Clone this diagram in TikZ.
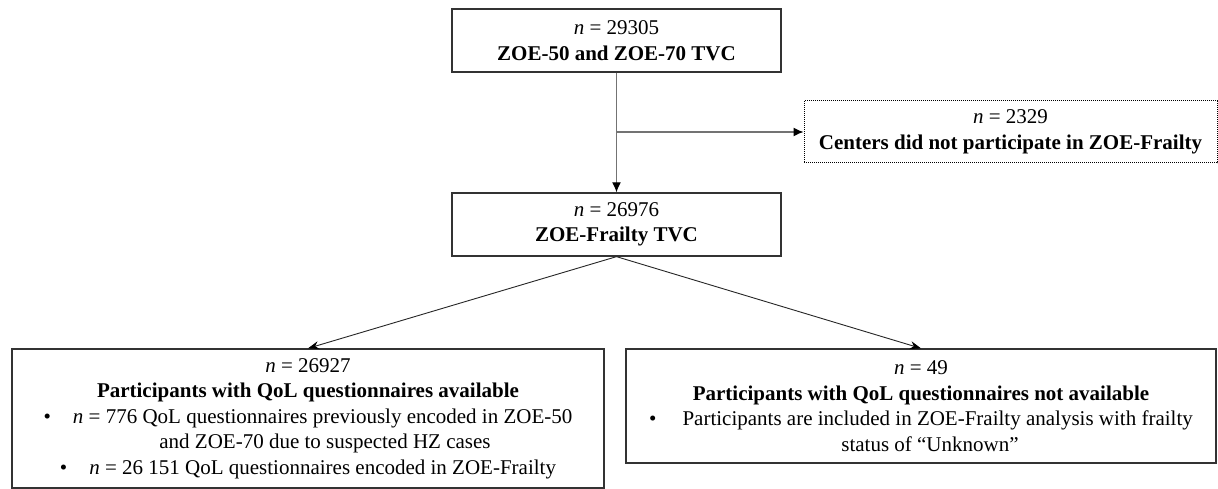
\documentclass[tikz,border=0pt]{standalone}
\usepackage{fontspec}
\setmainfont{Liberation Serif}
\usetikzlibrary{arrows.meta}
\begin{document}
\begin{tikzpicture}[x=1pt,y=-1pt,
  txt/.style={font=\fontsize{21}{25.5}\selectfont},
  box/.style={txt, draw=black!80, line width=1.3pt, rectangle, inner sep=0pt, align=center},
  dotbox/.style={box, draw=black, line width=1pt, dash pattern=on 1pt off 1pt},
  conn/.style={draw=black!55, line width=1.3pt, -{Latex[length=10pt,width=9pt,color=black]}},
  diag/.style={draw=black!85, line width=0.9pt, -{Stealth[length=11pt,width=8pt,color=black]}}]
\useasboundingbox (0,0) rectangle (1218,489);
\fill[white] (0,0) rectangle (1218,489);

\node[box, minimum width=329pt, minimum height=63pt] (top) at (616.5,40.5)
  {\textit{n} = 29305\\\textbf{ZOE-50 and ZOE-70 TVC}};
\node[dotbox, minimum width=413pt, minimum height=62pt] (excl) at (1010.5,132)
  {\textit{n} = 2329\\\textbf{Centers did not participate in ZOE-Frailty}};
\node[box, minimum width=329pt, minimum height=63pt] (mid) at (616.5,224.5)
  {\textit{n} = 26976\\\textbf{ZOE-Frailty TVC}};
\node[box, minimum width=592pt, minimum height=139pt] (left) at (308,418.5)
  {\textit{n} = 26927\\
   \textbf{Participants with QoL questionnaires available}\\
   •\hspace{22pt}\textit{n} = 776 QoL questionnaires previously encoded in ZOE-50\\
   \hspace{34pt}and ZOE-70 due to suspected HZ cases\\
   •\hspace{22pt}\textit{n} = 26 151 QoL questionnaires encoded in ZOE-Frailty};
\node[box, minimum width=590pt, minimum height=114pt] (right) at (921,406)
  {\textit{n} = 49\\
   \textbf{Participants with QoL questionnaires not available}\\
   •\hspace{26pt}Participants are included in ZOE-Frailty analysis with frailty\\
   \hspace{18pt}status of “Unknown”};

\coordinate (branch) at (top.south |- excl.west);
\draw[conn] (top.south) -- (mid.north);
\draw[conn] (branch) -- (excl.west);
\draw[diag] (mid.south) -- (left.north);
\draw[diag] (mid.south) -- (right.north);
\end{tikzpicture}
\end{document}
